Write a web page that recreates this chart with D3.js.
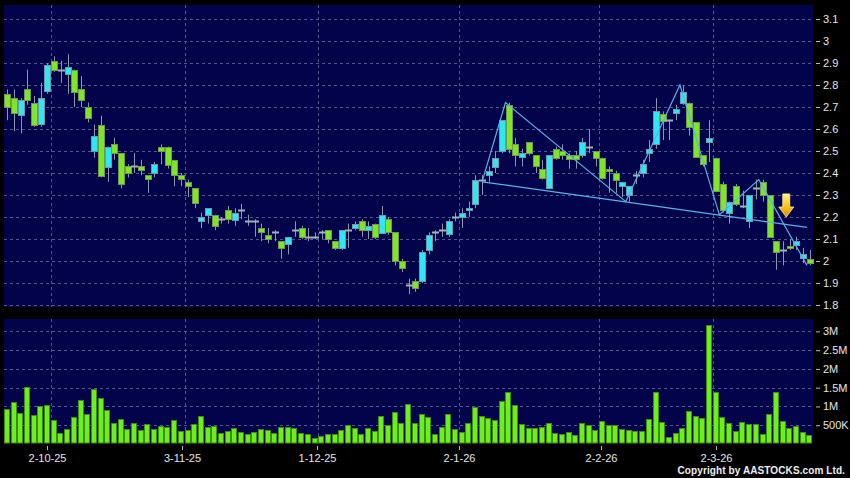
<!DOCTYPE html>
<html>
<head>
<meta charset="utf-8">
<script src="https://cdn.jsdelivr.net/npm/d3@7/dist/d3.min.js"></script>
<style>
  html, body { margin: 0; padding: 0; background: #000; }
  svg { display: block; font-family: Arial, "Liberation Sans", sans-serif; }
</style>
</head>
<body>
<svg id="chart" width="850" height="478"></svg>
<script>
// daily candles, 22-9-25 .. 20-3-26 (121 sessions)
const openPx = [2.76,2.74,2.66,2.78,2.72,2.62,2.77,2.91,2.87,2.85, 2.87,2.78,2.70,2.50,2.62,2.43,2.53,2.49,2.43,2.43,
  2.43,2.39,2.40,2.52,2.52,2.46,2.39,2.36,2.33,2.18, 2.21,2.21,2.19,2.23,2.19,2.23,2.18,2.18,2.15,2.12,
  2.13,2.09,2.08,2.14,2.15,2.11,2.11,2.13,2.14,2.09, 2.06,2.14,2.15,2.18,2.14,2.17,2.13,2.19,2.13,2.00,
  1.89,1.91,1.91,2.05,2.13,2.14,2.12,2.20,2.20,2.23, 2.26,2.37,2.39,2.43,2.50,2.71,2.53,2.47,2.54,2.48,
  2.42,2.33,2.51,2.50,2.48,2.48,2.48,2.52,2.50,2.47, 2.42,2.40,2.34,2.30,2.39,2.40,2.49,2.53,2.67,2.64,
  2.67,2.72,2.72,2.63,2.48,2.54,2.47,2.35,2.22,2.34, 2.25,2.18,2.33,2.36,2.30,2.09,2.05,2.07,2.07,2.01,
  2.01];
const highPx = [2.78,2.78,2.74,2.87,2.75,2.81,2.90,2.93,2.91,2.94, 2.87,2.84,2.72,2.62,2.66,2.52,2.56,2.49,2.44,2.49,
  2.46,2.39,2.45,2.53,2.52,2.46,2.40,2.37,2.33,2.22, 2.24,2.21,2.20,2.25,2.24,2.26,2.21,2.19,2.17,2.15,
  2.14,2.09,2.11,2.18,2.16,2.15,2.13,2.14,2.14,2.09, 2.14,2.17,2.18,2.19,2.18,2.17,2.25,2.20,2.13,2.01,
  1.92,1.92,2.05,2.13,2.14,2.17,2.19,2.22,2.24,2.27, 2.39,2.39,2.43,2.50,2.64,2.72,2.56,2.51,2.54,2.48,
  2.46,2.48,2.52,2.53,2.49,2.50,2.56,2.60,2.50,2.47, 2.43,2.41,2.36,2.34,2.41,2.46,2.55,2.74,2.68,2.64,
  2.71,2.80,2.72,2.63,2.48,2.64,2.47,2.36,2.27,2.35, 2.32,2.30,2.37,2.37,2.30,2.09,2.09,2.10,2.11,2.06,
  2.05];
const lowPx = [2.64,2.59,2.58,2.71,2.61,2.61,2.76,2.86,2.81,2.76, 2.70,2.70,2.63,2.47,2.38,2.36,2.46,2.33,2.38,2.40,
  2.39,2.31,2.38,2.44,2.42,2.34,2.34,2.29,2.24,2.15, 2.17,2.14,2.17,2.17,2.16,2.19,2.16,2.11,2.09,2.08,
  2.09,2.01,2.03,2.11,2.10,2.09,2.10,2.10,2.08,2.05, 2.05,2.06,2.14,2.11,2.10,2.10,2.13,2.12,1.98,1.95,
  1.85,1.86,1.90,2.03,2.09,2.11,2.11,2.18,2.15,2.20, 2.24,2.30,2.36,2.40,2.49,2.49,2.43,2.43,2.48,2.40,
  2.37,2.33,2.46,2.46,2.42,2.42,2.47,2.49,2.43,2.37, 2.31,2.31,2.29,2.27,2.35,2.38,2.45,2.51,2.55,2.55,
  2.64,2.71,2.57,2.47,2.43,2.45,2.32,2.22,2.17,2.25, 2.24,2.15,2.28,2.27,2.11,1.96,1.98,2.05,2.05,1.99,
  1.98];
const closePx = [2.70,2.67,2.73,2.73,2.62,2.74,2.89,2.87,2.87,2.88, 2.77,2.73,2.65,2.57,2.39,2.52,2.49,2.35,2.40,2.43,
  2.41,2.37,2.44,2.50,2.44,2.39,2.37,2.34,2.26,2.20, 2.24,2.16,2.19,2.19,2.22,2.23,2.18,2.18,2.13,2.10,
  2.13,2.06,2.11,2.14,2.11,2.11,2.11,2.13,2.10,2.06, 2.14,2.14,2.17,2.14,2.16,2.11,2.21,2.13,2.00,1.97,
  1.89,1.88,2.04,2.12,2.13,2.14,2.18,2.20,2.22,2.24, 2.37,2.37,2.41,2.47,2.64,2.51,2.48,2.49,2.49,2.43,
  2.38,2.48,2.47,2.48,2.46,2.46,2.54,2.52,2.47,2.38, 2.41,2.37,2.36,2.34,2.39,2.44,2.51,2.68,2.64,2.64,
  2.69,2.77,2.61,2.47,2.44,2.56,2.32,2.23,2.27,2.26, 2.25,2.30,2.33,2.30,2.11,2.04,2.05,2.06,2.09,2.03,
  1.99];
// volume in millions of shares
const volumeM = [0.92,1.12,0.83,1.51,0.77,1.00,1.04,0.65,0.28,0.40, 0.73,1.16,0.79,1.47,1.22,0.91,0.56,0.67,0.40,0.55,
  0.37,0.52,0.41,0.49,0.46,0.65,0.34,0.36,0.54,0.74, 0.44,0.48,0.28,0.35,0.42,0.33,0.27,0.33,0.41,0.38,
  0.29,0.44,0.44,0.42,0.29,0.27,0.16,0.21,0.27,0.27, 0.36,0.50,0.42,0.27,0.42,0.35,0.75,0.50,0.84,0.57,
  1.07,0.55,0.79,0.71,0.27,0.44,0.80,0.40,0.32,0.55, 0.99,0.74,0.68,0.63,1.15,1.39,1.05,0.53,0.42,0.42,
  0.46,0.56,0.30,0.27,0.33,0.24,0.56,0.50,0.36,0.61, 0.51,0.50,0.41,0.37,0.35,0.35,0.66,1.39,0.58,0.19,
  0.29,0.42,0.88,0.74,0.70,3.16,1.39,0.72,0.57,0.35, 0.58,0.53,0.53,0.27,0.81,1.39,0.61,0.42,0.49,0.32,
  0.23];

// month starts (session index) and their labels
const monthIdx = [7, 27, 47, 68, 89, 106];
const monthLabels = ['2-10-25', '3-11-25', '1-12-25', '2-1-26', '2-2-26', '2-3-26'];
const priceTicks = [1.8,1.9,2.0,2.1,2.2,2.3,2.4,2.5,2.6,2.7,2.8,2.9,3.0,3.1];
const volTicks = [500000, 1000000, 1500000, 2000000, 2500000, 3000000];

// drawn pattern (zigzag + neckline) and the signal arrow
const zigIdx = [71, 74.5, 92.5, 100.6, 106.5, 112.4, 119.6];
const zigPx = [2.36, 2.72, 2.27, 2.80, 2.21, 2.37, 1.98];
const neckIdx = [71, 119.6];
const neckPx = [2.36, 2.153];
const arrowIdx = 116.5, arrowTop = 2.305, arrowTip = 2.20;

const W = 850, H = 478;
const svg = d3.select('#chart');
svg.append('rect').attr('width', W).attr('height', H).attr('fill', '#000');

const plotL = 4, plotR = 813;
const priceTop = 5, priceBot = 307;
const volTop = 319, volBot = 443;

const x = d3.scaleBand().domain(d3.range(openPx.length)).range([plotL, plotR]).padding(0);
const xc = (i) => x(0) + (i + 0.5) * x.step(); // centre of a session (fractional ok)
// the date labels use a slightly wider session spacing than the plot itself
const xLab = d3.scaleLinear().domain([0, openPx.length - 1]).range([plotL - 4, plotR - 3]);
const y = d3.scaleLinear().domain([1.8, 3.1]).range([305, 19]);
const yv = d3.scaleLinear().domain([0, 3e6]).range([444, 331.4]);

const bg = '#03034c', gridCol = '#56568a';

// panels
svg.append('rect').attr('x', plotL).attr('y', priceTop).attr('width', plotR - plotL).attr('height', priceBot - priceTop).attr('fill', bg);
svg.append('rect').attr('x', plotL).attr('y', volTop).attr('width', plotR - plotL).attr('height', volBot - volTop).attr('fill', bg);

// grid
const grid = svg.append('g').attr('stroke', gridCol).attr('stroke-width', 1).attr('stroke-dasharray', '3,3');
grid.selectAll('.hp').data(priceTicks).join('line')
  .attr('x1', plotL).attr('x2', plotR)
  .attr('y1', (d) => Math.round(y(d)) + 0.5).attr('y2', (d) => Math.round(y(d)) + 0.5);
grid.selectAll('.hv').data(volTicks).join('line')
  .attr('x1', plotL).attr('x2', plotR)
  .attr('y1', (d) => Math.round(yv(d)) + 0.5).attr('y2', (d) => Math.round(yv(d)) + 0.5);
monthIdx.forEach((i) => {
  const gx = Math.round(x(i)) + 0.5;
  grid.append('line').attr('x1', gx).attr('x2', gx).attr('y1', priceTop).attr('y2', priceBot);
  grid.append('line').attr('x1', gx).attr('x2', gx).attr('y1', volTop).attr('y2', volBot);
});

// candles
const candles = d3.range(openPx.length).map((i) => ({
  i, o: openPx[i], h: highPx[i], l: lowPx[i], c: closePx[i]
}));
const cg = svg.append('g');
cg.selectAll('.wick').data(candles).join('line')
  .attr('x1', (d) => Math.round(xc(d.i)) + 0.5).attr('x2', (d) => Math.round(xc(d.i)) + 0.5)
  .attr('y1', (d) => y(d.h)).attr('y2', (d) => y(d.l))
  .attr('stroke', '#8a98a8').attr('stroke-width', 1);

cg.selectAll('.body').data(candles.filter((d) => d.o !== d.c)).join('rect')
  .attr('x', (d) => Math.round(xc(d.i)) - 2.5)
  .attr('width', 6)
  .attr('y', (d) => Math.round(y(Math.max(d.o, d.c))) + 0.5)
  .attr('height', (d) => Math.max(1, Math.round(Math.abs(y(d.o) - y(d.c)))))
  .attr('fill', (d) => (d.c > d.o ? '#2fe6f4' : '#7ee52a'))
  .attr('stroke', (d) => (d.c > d.o ? '#6e9aa8' : '#6f9a4a'))
  .attr('stroke-width', 1);

cg.selectAll('.doji').data(candles.filter((d) => d.o === d.c)).join('line')
  .attr('x1', (d) => Math.round(xc(d.i)) - 3).attr('x2', (d) => Math.round(xc(d.i)) + 4)
  .attr('y1', (d) => Math.round(y(d.o)) + 0.5).attr('y2', (d) => Math.round(y(d.o)) + 0.5)
  .attr('stroke', '#a0b4b8').attr('stroke-width', 2);

// pattern lines
const pline = d3.line().x((d) => xc(d[0])).y((d) => y(d[1]));
svg.append('path').datum(zigIdx.map((d, k) => [d, zigPx[k]]))
  .attr('d', pline).attr('fill', 'none').attr('stroke', '#5ab2e8').attr('stroke-width', 1.2);
svg.append('path').datum(neckIdx.map((d, k) => [d, neckPx[k]]))
  .attr('d', pline).attr('fill', 'none').attr('stroke', '#5ab2e8').attr('stroke-width', 1.2);

// arrow
const defs = svg.append('defs');
const grad = defs.append('linearGradient').attr('id', 'arrowGrad').attr('x1', 0).attr('y1', 0).attr('x2', 0).attr('y2', 1);
grad.append('stop').attr('offset', '0%').attr('stop-color', '#fff48a');
grad.append('stop').attr('offset', '55%').attr('stop-color', '#f5c21a');
grad.append('stop').attr('offset', '100%').attr('stop-color', '#e08a00');
const ax = xc(arrowIdx), at = y(arrowTop), ab = y(arrowTip), ah = ab - 10;
svg.append('path')
  .attr('d', `M${ax - 3.5},${at} L${ax + 3.5},${at} L${ax + 3.5},${ah} L${ax + 7.5},${ah} L${ax},${ab} L${ax - 7.5},${ah} L${ax - 3.5},${ah} Z`)
  .attr('fill', 'url(#arrowGrad)').attr('stroke', '#fff0a0').attr('stroke-width', 0.8);

// volume bars
svg.append('g').selectAll('rect').data(volumeM).join('rect')
  .attr('x', (d, i) => Math.round(x(i)) + 0.5)
  .attr('width', 5)
  .attr('y', (d) => Math.round(yv(d * 1e6)) + 0.5)
  .attr('height', (d) => Math.max(0, volBot - Math.round(yv(d * 1e6)) - 0.5))
  .attr('fill', '#6cf01c').attr('stroke', '#3e8c18').attr('stroke-width', 1);

// right axes
const fmtP = (d) => String(+d.toFixed(1));
const fmtV = (d) => (d >= 1e6 ? String(d / 1e6) + 'M' : String(d / 1e3) + 'K');
const yAxis = svg.append('g').attr('transform', `translate(816,0)`)
  .call(d3.axisRight(y).tickValues(priceTicks).tickFormat(fmtP).tickSize(4).tickPadding(3));
const vAxis = svg.append('g').attr('transform', `translate(816,0)`)
  .call(d3.axisRight(yv).tickValues(volTicks).tickFormat(fmtV).tickSize(4).tickPadding(3));
[yAxis, vAxis].forEach((g) => {
  g.select('.domain').remove();
  g.selectAll('line').attr('stroke', '#bbbbbb');
  g.selectAll('text').attr('fill', '#e6e6e6').style('font-size', '11px').style('font-family', 'Arial, "Liberation Sans", sans-serif');
});

// bottom axis
const xg = svg.append('g');
monthIdx.forEach((i, k) => {
  const tx = Math.round(xLab(i)) + 0.5;
  xg.append('line').attr('x1', tx).attr('x2', tx).attr('y1', 446).attr('y2', 450).attr('stroke', '#bbbbbb');
  xg.append('text').attr('x', tx).attr('y', 462).attr('text-anchor', 'middle')
    .attr('fill', '#e6e6e6').style('font-size', '11px').text(monthLabels[k]);
});

svg.append('text').attr('x', 845).attr('y', 474).attr('text-anchor', 'end')
  .attr('fill', '#eeeeee').style('font-size', '10px').style('font-weight', 'bold').style('letter-spacing', '0.1px')
  .text('Copyright by AASTOCKS.com Ltd.');
</script>
</body>
</html>
